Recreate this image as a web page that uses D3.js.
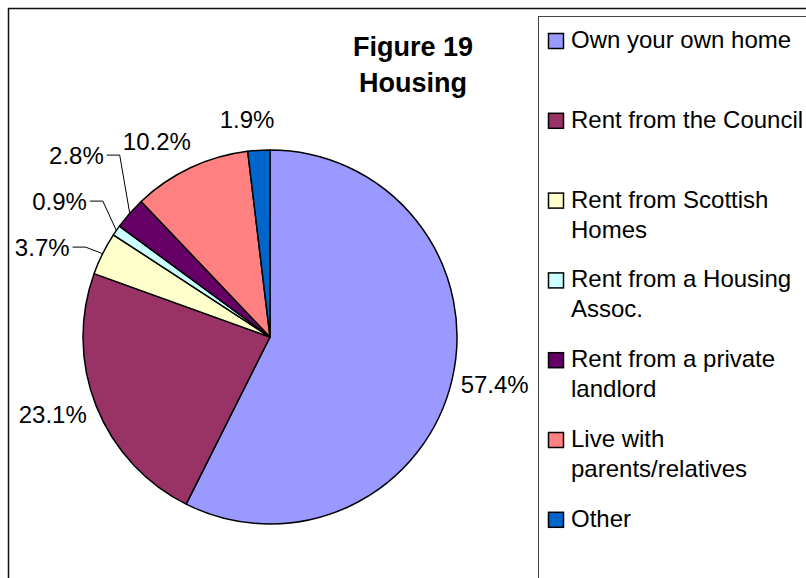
<!DOCTYPE html>
<html>
<head>
<meta charset="utf-8">
<script src="https://cdn.jsdelivr.net/npm/d3@7/dist/d3.min.js"></script>
<style>
  html, body { margin: 0; padding: 0; background: #fff; }
  svg { display: block; font-family: "Liberation Sans", Arial, sans-serif; }
</style>
</head>
<body>
<div id="chart"></div>
<script>
// chart data
const categories = [
  'Own your own home',
  'Rent from the Council',
  'Rent from Scottish Homes',
  'Rent from a Housing Assoc.',
  'Rent from a private landlord',
  'Live with parents/relatives',
  'Other',
];
const values = [57.4, 23.1, 3.7, 0.9, 2.8, 10.2, 1.9];
const colors = ['#9999FF', '#993366', '#FFFFCC', '#CCFFFF', '#660066', '#FF8080', '#0066CC'];
const titleLines = ['Figure 19', 'Housing'];

const width = 806;
const height = 578;
const cx = 270;
const cy = 337;
const radius = 187;

const svg = d3.select('#chart')
  .append('svg')
  .attr('width', width)
  .attr('height', height);

// outer chart border (runs off the page on right/bottom like the original)
svg.append('rect')
  .attr('x', 8.5).attr('y', 8.5)
  .attr('width', width).attr('height', height)
  .attr('fill', 'none')
  .attr('stroke', '#111')
  .attr('stroke-width', 1.5);

// title
svg.append('text')
  .attr('x', 413)
  .attr('y', 56)
  .attr('text-anchor', 'middle')
  .style('font-size', '27px')
  .style('font-weight', 'bold')
  .selectAll('tspan')
  .data(titleLines)
  .join('tspan')
  .attr('x', 413)
  .attr('dy', (d, i) => (i ? 36 : 0))
  .text(d => d);

// pie
const pie = d3.pie().sort(null).value(d => d);
const arcs = pie(values);
const arc = d3.arc().innerRadius(0).outerRadius(radius);

const g = svg.append('g').attr('transform', `translate(${cx},${cy})`);

g.selectAll('path')
  .data(arcs)
  .join('path')
  .attr('d', arc)
  .attr('fill', (d, i) => colors[i])
  .attr('stroke', '#000')
  .attr('stroke-width', 1.5)
  .attr('stroke-linejoin', 'round');

// data labels
const fmt = d3.format('.1f');
const fontSize = 24;
const boxH = 22;
const n = values.length;
const crowded = values.map((v, i) => v < 4 && (values[(i + n - 1) % n] < 4 || values[(i + 1) % n] < 4));

const labels = g.selectAll('text.lbl')
  .data(arcs)
  .join('text')
  .attr('class', 'lbl')
  .attr('text-anchor', 'middle')
  .style('font-size', fontSize + 'px')
  .text(d => fmt(d.data) + '%');

const placed = [];
labels.each(function (d, i) {
  const w = this.getComputedTextLength();
  const a = (d.startAngle + d.endAngle) / 2;
  const s = Math.sin(a);
  const c = Math.cos(a);
  const dist = crowded[i] ? 38 : 6 + 14 * Math.abs(c);
  const x = (radius + dist) * s + (w / 2) * Math.cbrt(s);
  const y = -(radius + dist) * c - (boxH / 2) * c;
  placed.push({ i, a, w, x, y, node: this });
});

// spread crowded labels vertically so they do not overlap
const group = placed.filter(p => crowded[p.i]).sort((p, q) => q.y - p.y);
if (group.length) {
  const gap = 46;
  const mean = d3.mean(group, p => p.y) - 4;
  group.forEach((p, k) => { p.y = mean + ((group.length - 1) / 2 - k) * gap; });
}

placed.forEach((p) => {
  d3.select(p.node)
    .attr('x', p.x)
    .attr('y', p.y + fontSize * 0.36);
});

// leader lines for the pulled-out labels
g.selectAll('path.leader')
  .data(group)
  .join('path')
  .attr('class', 'leader')
  .attr('fill', 'none')
  .attr('stroke', '#000')
  .attr('stroke-width', 1)
  .attr('d', (p) => {
    const x0 = p.x + p.w / 2 + 3;
    const ex = radius * Math.sin(p.a);
    const ey = -radius * Math.cos(p.a);
    return `M${x0},${p.y}H${x0 + 13}L${ex},${ey}`;
  });

// legend
const legendX = 538.5;
const legendY = 16.5;
svg.append('rect')
  .attr('x', legendX).attr('y', legendY)
  .attr('width', width).attr('height', height)
  .attr('fill', '#fff')
  .attr('stroke', '#444')
  .attr('stroke-width', 1);

const legendStep = 79.8;
const maxTextW = 236;

const items = svg.append('g')
  .selectAll('g')
  .data(categories)
  .join('g')
  .attr('transform', (d, i) => `translate(548,${48 + i * legendStep})`);

items.append('rect')
  .attr('x', 0.5).attr('y', -14.5)
  .attr('width', 15).attr('height', 15)
  .attr('fill', (d, i) => colors[i])
  .attr('stroke', '#000')
  .attr('stroke-width', 1.5);

items.append('text')
  .style('font-size', '24px')
  .each(function (d) {
    const t = d3.select(this);
    const words = d.split(' ');
    let line = [];
    let lineNo = 0;
    let tspan = t.append('tspan').attr('x', 23).attr('y', 0);
    words.forEach((word) => {
      line.push(word);
      tspan.text(line.join(' '));
      if (tspan.node().getComputedTextLength() > maxTextW && line.length > 1) {
        line.pop();
        tspan.text(line.join(' '));
        line = [word];
        lineNo += 1;
        tspan = t.append('tspan').attr('x', 23).attr('y', lineNo * 30).text(word);
      }
    });
  });
</script>
</body>
</html>
